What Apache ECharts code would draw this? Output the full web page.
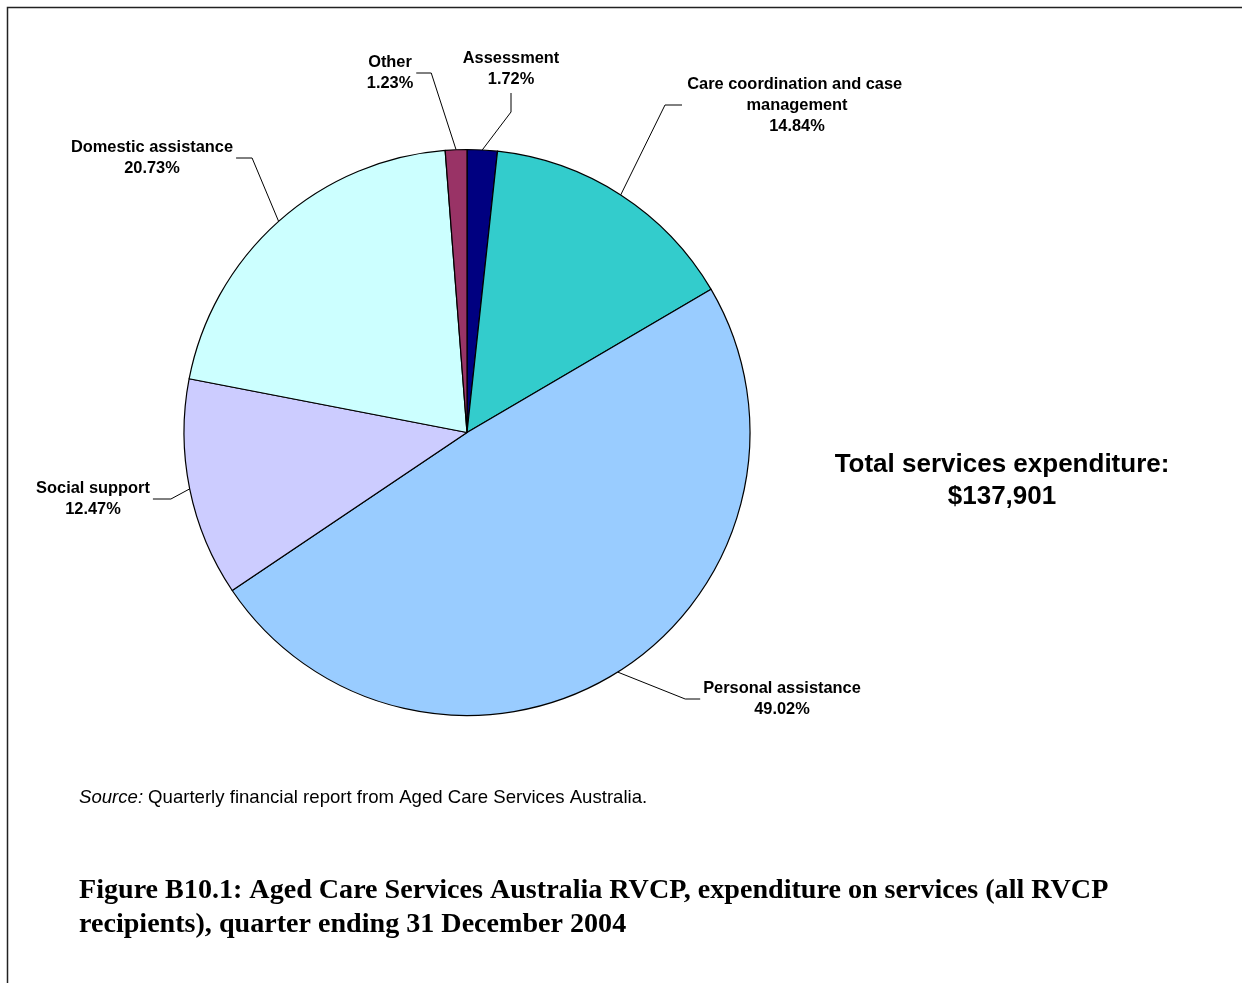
<!DOCTYPE html>
<html>
<head>
<meta charset="utf-8">
<script src="https://cdn.jsdelivr.net/npm/echarts@6/dist/echarts.min.js"></script>
<style>
  html, body { margin: 0; padding: 0; background: #ffffff; }
  #chart { width: 1242px; height: 983px; }
</style>
</head>
<body>
<div id="chart"></div>
<script>
// Service categories, clockwise from 12 o'clock
const categories = [
  'Assessment',
  'Care coordination and case management',
  'Personal assistance',
  'Social support',
  'Domestic assistance',
  'Other'
];
// Share of total services expenditure (%)
const shares = [1.72, 14.84, 49.02, 12.47, 20.73, 1.23];
const sliceColors = ['#000080', '#33CCCC', '#99CCFF', '#CCCCFF', '#CCFFFF', '#993366'];
const totalLabel = ['Total services expenditure:', '$137,901'];
const sourceNote = 'Quarterly financial report from Aged Care Services Australia.';
const figureCaption = [
  'Figure B10.1: Aged Care Services Australia RVCP, expenditure on services (all RVCP',
  'recipients), quarter ending 31 December 2004'
];

// Where each label block sits and which side its leader stub leaves from
const labelSpots = [
  { x: 511, y: 69,  side: 'bottom', stub: 19 },
  { x: 797, y: 105, side: 'left',   stub: 17 },
  { x: 782, y: 699, side: 'left',   stub: 15 },
  { x: 93,  y: 499, side: 'right',  stub: 18 },
  { x: 152, y: 158, side: 'right',  stub: 16 },
  { x: 390, y: 73,  side: 'right',  stub: 15 }
];
const stubGap = 3;

const chart = echarts.init(document.getElementById('chart'), null, { renderer: 'canvas' });

const sansBold = { fontFamily: '"Liberation Sans", Arial, sans-serif', fontWeight: 'bold', color: '#000' };

chart.setOption({
  backgroundColor: '#ffffff',
  animation: false,
  title: [
    {
      text: totalLabel.join('\n'),
      left: 1002,
      top: 449,
      textAlign: 'center',
      padding: 0,
      textStyle: Object.assign({}, sansBold, { fontSize: 26, lineHeight: 32, align: 'center' })
    },
    {
      text: '{i|Source:} {n|' + sourceNote + '}',
      left: 79,
      top: 788,
      padding: 0,
      textStyle: {
        fontWeight: 'normal',
        rich: {
          i: { fontFamily: '"Liberation Sans", Arial, sans-serif', fontStyle: 'italic', fontWeight: 'normal', fontSize: 18.6, color: '#000' },
          n: { fontFamily: '"Liberation Sans", Arial, sans-serif', fontWeight: 'normal', fontSize: 18.6, color: '#000' }
        }
      }
    },
    {
      text: figureCaption.join('\n'),
      left: 79,
      top: 874,
      padding: 0,
      textStyle: {
        fontFamily: '"Liberation Serif", "Times New Roman", serif',
        fontWeight: 'bold',
        fontSize: 28.1,
        lineHeight: 34,
        color: '#000'
      }
    }
  ],
  graphic: [
    {
      type: 'polyline',
      shape: { points: [[7.5, 983], [7.5, 7.5], [1242, 7.5]] },
      style: { stroke: '#222', lineWidth: 1.5, fill: null },
      silent: true
    }
  ],
  series: [
    {
      type: 'pie',
      center: [467, 432.5],
      radius: 283,
      startAngle: 90,
      clockwise: true,
      avoidLabelOverlap: false,
      silent: true,
      itemStyle: { borderColor: '#000', borderWidth: 1.2 },
      label: Object.assign({}, sansBold, {
        show: true,
        position: 'outside',
        fontSize: 16.4,
        lineHeight: 21,
        align: 'center',
        formatter: p => p.name + '\n' + p.value.toFixed(2) + '%'
      }),
      labelLine: {
        show: true,
        length: 15,
        length2: 15,
        smooth: false,
        lineStyle: { color: '#000', width: 1 }
      },
      labelLayout: function (params) {
        const spot = labelSpots[params.dataIndex];
        const w = params.labelRect.width;
        const h = params.labelRect.height;
        let start, bend;
        if (spot.side === 'right') {
          start = [spot.x + w / 2 + stubGap, spot.y];
          bend = [start[0] + spot.stub, spot.y];
        } else if (spot.side === 'left') {
          start = [spot.x - w / 2 - stubGap, spot.y];
          bend = [start[0] - spot.stub, spot.y];
        } else {
          start = [spot.x, spot.y + h / 2 + stubGap];
          bend = [spot.x, start[1] + spot.stub];
        }
        const out = { x: spot.x, y: spot.y, align: 'center', verticalAlign: 'middle' };
        if (params.labelLinePoints) {
          out.labelLinePoints = [params.labelLinePoints[0], bend, start];
        }
        return out;
      },
      data: categories.map((name, i) => {
        const item = { name: name, value: shares[i], itemStyle: { color: sliceColors[i] } };
        if (name.length > 30) {
          item.label = { width: 224, overflow: 'break' };
        }
        return item;
      })
    }
  ]
});
</script>
</body>
</html>
